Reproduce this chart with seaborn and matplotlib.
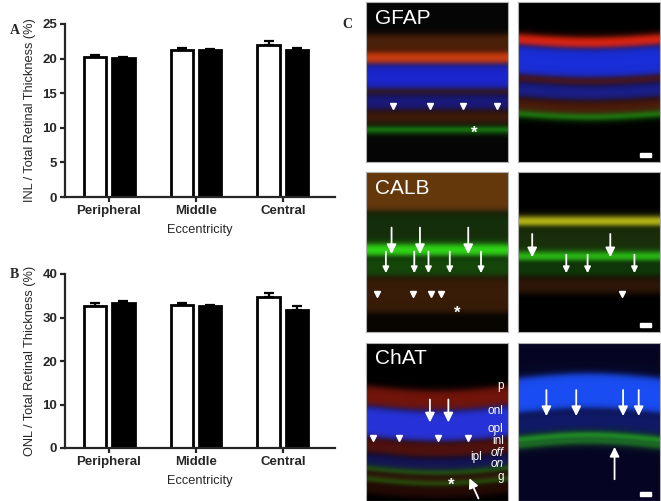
import numpy as np
import pandas as pd
import matplotlib
matplotlib.use("Agg")
import matplotlib.pyplot as plt
import seaborn as sns

# bar chart data
eccentricity = ["Peripheral", "Middle", "Central"]
groups = ["Group 1", "Group 2"]
inl_means = {"Group 1": [20.3, 21.2, 22.0], "Group 2": [20.1, 21.2, 21.3]}
inl_sems = {"Group 1": [0.2, 0.3, 0.6], "Group 2": [0.15, 0.2, 0.3]}
onl_means = {"Group 1": [32.7, 32.9, 34.6], "Group 2": [33.3, 32.6, 31.8]}
onl_sems = {"Group 1": [0.7, 0.4, 1.0], "Group 2": [0.6, 0.3, 0.8]}

sns.set_style("ticks")
plt.rcParams["font.family"] = ["Liberation Sans", "DejaVu Sans"]

fig = plt.figure(figsize=(6.61, 5.01), dpi=100)
W, H = 661, 501


def px_axes(x0, y0, x1, y1):
    return fig.add_axes([x0 / W, 1 - y1 / H, (x1 - x0) / W, (y1 - y0) / H])


def bar_panel(ax, means, sems, ymax, step, ylabel):
    df = pd.DataFrame({
        "ecc": eccentricity * 2,
        "grp": [g for g in groups for _ in eccentricity],
        "val": means[groups[0]] + means[groups[1]],
        "err": sems[groups[0]] + sems[groups[1]],
    })
    sns.barplot(data=df, x="ecc", y="val", hue="grp", palette=["white", "black"],
                edgecolor="black", linewidth=2, width=0.644, gap=0.18,
                errorbar=None, legend=False, ax=ax)
    # add SEM bars (upper only) on bar centres
    bars = sorted(ax.patches, key=lambda p: p.get_x())
    order = []
    for e in eccentricity:
        for g in groups:
            order.append(df[(df.ecc == e) & (df.grp == g)].iloc[0])
    xs = [b.get_x() + b.get_width() / 2 for b in bars]
    hs = [r["val"] for r in order]
    es = [r["err"] for r in order]
    ax.errorbar(xs, hs, yerr=[np.zeros(len(es)), es], fmt="none", ecolor="black",
                elinewidth=1.6, capsize=3.5, capthick=1.6, zorder=5)
    ax.set_xlim(-0.506, 2.598)
    ax.set_ylim(0, ymax)
    ax.set_yticks(np.arange(0, ymax + 1, step))
    sns.despine(ax=ax)
    for s in ["left", "bottom"]:
        ax.spines[s].set_linewidth(1.6)
    ax.tick_params(axis="both", width=1.6, length=3.5, labelsize=9.5, pad=2)
    for lab in ax.get_xticklabels() + ax.get_yticklabels():
        lab.set_fontweight("bold")
    ax.set_xlabel("Eccentricity", fontsize=9.2, labelpad=5)
    ax.set_ylabel(ylabel, fontsize=9.2, labelpad=5)


axA = px_axes(65, 24, 335, 197)
bar_panel(axA, inl_means, inl_sems, 25, 5, "INL / Total Retinal Thickness (%)")
axB = px_axes(65, 274, 335, 448)
bar_panel(axB, onl_means, onl_sems, 40, 10, "ONL / Total Retinal Thickness (%)")

serif = ["Liberation Serif", "DejaVu Serif"]
fig.text(10 / W, 1 - 30 / H, "A", fontsize=10, fontweight="bold", family=serif, va="center")
fig.text(10 / W, 1 - 275 / H, "B", fontsize=10, fontweight="bold", family=serif, va="center")
fig.text(342 / W, 1 - 24 / H, "C", fontsize=10, fontweight="bold", family=serif, va="center")


# --- panel C: stylised retinal sections ---
def section(bands, bg, bend=0.0, h=160, w=142):
    yy = np.linspace(0, 1, h)[:, None]
    xx = np.linspace(0, 1, w)[None, :]
    yy = yy - bend * np.sin(np.pi * xx)
    img = np.zeros((h, w, 3)) + np.array(bg)
    for lo, hi, col in bands:
        soft = 0.012
        m = (1 / (1 + np.exp(-(yy - lo) / soft))) * (1 / (1 + np.exp((yy - hi) / soft)))
        img = img * (1 - m[..., None]) + m[..., None] * np.array(col)
    return np.clip(img, 0, 1)


panels = {
    "gfap_l": section([(0.20, 0.30, (0.30, 0.13, 0.04)), (0.31, 0.39, (0.85, 0.25, 0.05)),
                       (0.39, 0.55, (0.10, 0.15, 0.80)), (0.55, 0.58, (0.30, 0.12, 0.08)),
                       (0.58, 0.68, (0.10, 0.10, 0.50)), (0.68, 0.76, (0.25, 0.10, 0.04)),
                       (0.79, 0.81, (0.15, 0.85, 0.10))], (0.02, 0.02, 0.02)),
    "gfap_r": section([(0.20, 0.27, (0.95, 0.15, 0.05)), (0.27, 0.46, (0.10, 0.18, 0.85)),
                       (0.46, 0.50, (0.40, 0.10, 0.05)), (0.50, 0.60, (0.10, 0.12, 0.55)),
                       (0.60, 0.69, (0.30, 0.10, 0.04)), (0.69, 0.71, (0.15, 0.85, 0.10))],
                      (0.0, 0.0, 0.0), bend=0.02),
    "calb_l": section([(-0.1, 0.25, (0.40, 0.22, 0.05)), (0.25, 0.45, (0.08, 0.18, 0.04)),
                       (0.45, 0.53, (0.20, 0.90, 0.10)), (0.53, 0.66, (0.08, 0.28, 0.04)),
                       (0.66, 0.88, (0.22, 0.11, 0.03))], (0.03, 0.02, 0.0)),
    "calb_r": section([(0.28, 0.34, (0.85, 0.85, 0.10)), (0.34, 0.50, (0.10, 0.18, 0.04)),
                       (0.50, 0.56, (0.20, 0.85, 0.10)), (0.56, 0.66, (0.06, 0.22, 0.03)),
                       (0.66, 0.76, (0.18, 0.09, 0.03))], (0.0, 0.0, 0.0)),
    "chat_l": section([(0.27, 0.40, (0.45, 0.08, 0.04)), (0.40, 0.60, (0.15, 0.20, 0.85)),
                       (0.60, 0.70, (0.32, 0.07, 0.05)), (0.70, 0.78, (0.08, 0.08, 0.35)),
                       (0.79, 0.805, (0.25, 0.80, 0.10)), (0.81, 0.86, (0.20, 0.04, 0.03)),
                       (0.86, 0.875, (0.25, 0.80, 0.10)), (0.875, 0.95, (0.15, 0.04, 0.02))],
                      (0.0, 0.0, 0.0), bend=0.03),
    "chat_r": section([(0.22, 0.45, (0.10, 0.30, 0.95)), (0.45, 0.58, (0.06, 0.10, 0.40)),
                       (0.60, 0.625, (0.20, 0.90, 0.15)), (0.645, 0.66, (0.20, 0.80, 0.15))],
                      (0.02, 0.02, 0.14), bend=-0.03),
}

rows = [(2, 162), (172, 332), (343, 501)]
cols = [(366, 508), (518, 660)]
keys = [("gfap_l", "gfap_r"), ("calb_l", "calb_r"), ("chat_l", "chat_r")]
titles = ["GFAP", "CALB", "ChAT"]
img_axes = {}
for (y0, y1), pair, title in zip(rows, keys, titles):
    for (x0, x1), k in zip(cols, pair):
        ax = px_axes(x0, y0, x1, y1)
        ax.imshow(panels[k], aspect="auto", extent=(0, 1, 0, 1), interpolation="bilinear")
        ax.set_xticks([])
        ax.set_yticks([])
        for s in ax.spines.values():
            s.set_color("#b0b0b0")
            s.set_linewidth(0.8)
        img_axes[k] = ax
        if k.endswith("_r"):
            ax.add_patch(plt.Rectangle((0.86, 0.03), 0.08, 0.025, color="white"))
    img_axes[pair[0]].text(0.06, 0.9, title, color="white", fontsize=15,
                           transform=img_axes[pair[0]].transAxes, va="center")


def arrow(ax, x, y0, y1, big=True):
    ax.annotate("", xy=(x, y1), xytext=(x, y0),
                arrowprops=dict(arrowstyle="-|>", color="white", lw=1.3,
                                mutation_scale=14 if big else 9))


def head(ax, x, y):
    ax.plot([x], [y], marker="v", color="white", markersize=4.5)


ax = img_axes["gfap_l"]
for x in [0.19, 0.45, 0.68, 0.92]:
    head(ax, x, 0.35)
ax.text(0.74, 0.18, "*", color="white", fontsize=12, fontweight="bold", va="center")

ax = img_axes["calb_l"]
for x in [0.18, 0.38, 0.72]:
    arrow(ax, x, 0.67, 0.47)
for x in [0.1, 0.3, 0.4, 0.55, 0.77]:
    arrow(ax, x + 0.04, 0.52, 0.35, big=False)
for x in [0.08, 0.33, 0.46, 0.53]:
    head(ax, x, 0.24)
ax.text(0.62, 0.12, "*", color="white", fontsize=12, fontweight="bold", va="center")
ax = img_axes["calb_r"]
for x in [0.1, 0.65]:
    arrow(ax, x, 0.63, 0.45)
for x in [0.3, 0.45, 0.78]:
    arrow(ax, x + 0.04, 0.5, 0.35, big=False)
head(ax, 0.73, 0.24)

ax = img_axes["chat_l"]
for x in [0.45, 0.58]:
    arrow(ax, x, 0.66, 0.48)
for x in [0.05, 0.23, 0.51, 0.72]:
    head(ax, x, 0.4)
layer_labels = [("p", 0.73), ("onl", 0.57), ("opl", 0.455), ("inl", 0.38), ("g", 0.15)]
for t, y in layer_labels:
    ax.text(0.97, y, t, color="white", fontsize=8.5, ha="right", va="center")
ax.text(0.82, 0.28, "ipl", color="white", fontsize=8.5, ha="right", va="center")
ax.text(0.97, 0.305, "off", color="white", fontsize=8.5, ha="right", va="center", style="italic")
ax.text(0.97, 0.235, "on", color="white", fontsize=8.5, ha="right", va="center", style="italic")
ax.text(0.58, 0.1, "*", color="white", fontsize=12, fontweight="bold", va="center")
ax.annotate("", xy=(0.72, 0.16), xytext=(0.8, 0.0),
            arrowprops=dict(arrowstyle="-|>", color="white", lw=1.3, mutation_scale=14))
ax = img_axes["chat_r"]
for x in [0.2, 0.41, 0.74, 0.85]:
    arrow(ax, x, 0.72, 0.52)
ax.annotate("", xy=(0.68, 0.36), xytext=(0.68, 0.12),
            arrowprops=dict(arrowstyle="-|>", color="white", lw=1.3, mutation_scale=14))

fig.savefig("out.png", dpi=100)
